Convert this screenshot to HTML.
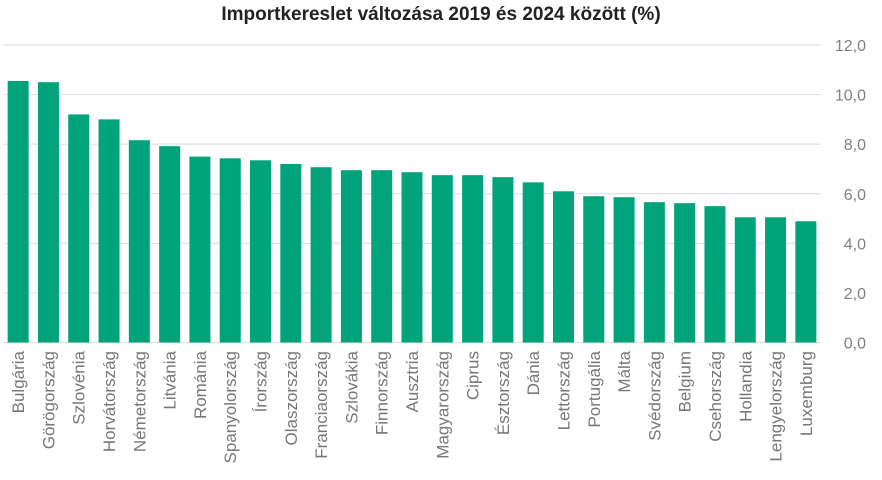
<!DOCTYPE html>
<html><head><meta charset="utf-8"><style>
body{margin:0;background:#fff;font-family:"Liberation Sans",sans-serif}
</style></head><body>
<svg id="c" width="882" height="475" xmlns="http://www.w3.org/2000/svg">
<text x="441" y="20" text-anchor="middle" font-size="19" font-weight="bold" fill="#222">Importkereslet változása 2019 és 2024 között (%)</text>
<g id="grid"></g><g id="bars"></g><g id="labels"></g>
</svg>
<script>
const categories=["Bulgária","Görögország","Szlovénia","Horvátország","Németország","Litvánia","Románia","Spanyolország","Írország","Olaszország","Franciaország","Szlovákia","Finnország","Ausztria","Magyarország","Ciprus","Észtország","Dánia","Lettország","Portugália","Málta","Svédország","Belgium","Csehország","Hollandia","Lengyelország","Luxemburg"];
const values=[10.55,10.5,9.2,9.0,8.16,7.92,7.5,7.43,7.35,7.2,7.07,6.95,6.95,6.87,6.75,6.75,6.67,6.46,6.1,5.9,5.86,5.66,5.62,5.5,5.05,5.05,4.89];
const ticks=[0,2,4,6,8,10,12];
const tickLabels=["0,0","2,0","4,0","6,0","8,0","10,0","12,0"];
const NS="http://www.w3.org/2000/svg";
const x0=3,x1=821,yb=342.5,yt=45;
const y=v=>yb-(v/12)*(yb-yt);
const step=(x1-x0)/categories.length;
const g=document.getElementById('grid'),b=document.getElementById('bars'),l=document.getElementById('labels');
ticks.forEach((t,i)=>{
 const ln=document.createElementNS(NS,'line');
 
 
 ln.setAttribute('x1',x0);ln.setAttribute('x2',x1);ln.setAttribute('y1',y(t));ln.setAttribute('y2',y(t));
 ln.setAttribute('stroke','#d9dede');ln.setAttribute('stroke-width','1');g.appendChild(ln);
 const tx=document.createElementNS(NS,'text');
 
 
 tx.setAttribute('x',866);tx.setAttribute('y',y(t)+6);tx.setAttribute('text-anchor','end');
 tx.setAttribute('font-size','16');tx.setAttribute('fill','#808080');tx.textContent=tickLabels[i];g.appendChild(tx);
});
categories.forEach((c,i)=>{
 const cx=x0+step*(i+0.5);
 const r=document.createElementNS(NS,'rect');
 
 
 r.setAttribute('x',cx-10.5);r.setAttribute('width',21);
 r.setAttribute('y',y(values[i]));r.setAttribute('height',yb-y(values[i]));
 r.setAttribute('fill','#00a37a');b.appendChild(r);
 const t=document.createElementNS(NS,'text');
 
 
 t.setAttribute('transform','translate('+(cx+6)+',351) rotate(-90)');
 t.setAttribute('text-anchor','end');t.setAttribute('font-size','17');t.setAttribute('fill','#777');
 t.textContent=c;l.appendChild(t);
});
</script>
</body></html>
